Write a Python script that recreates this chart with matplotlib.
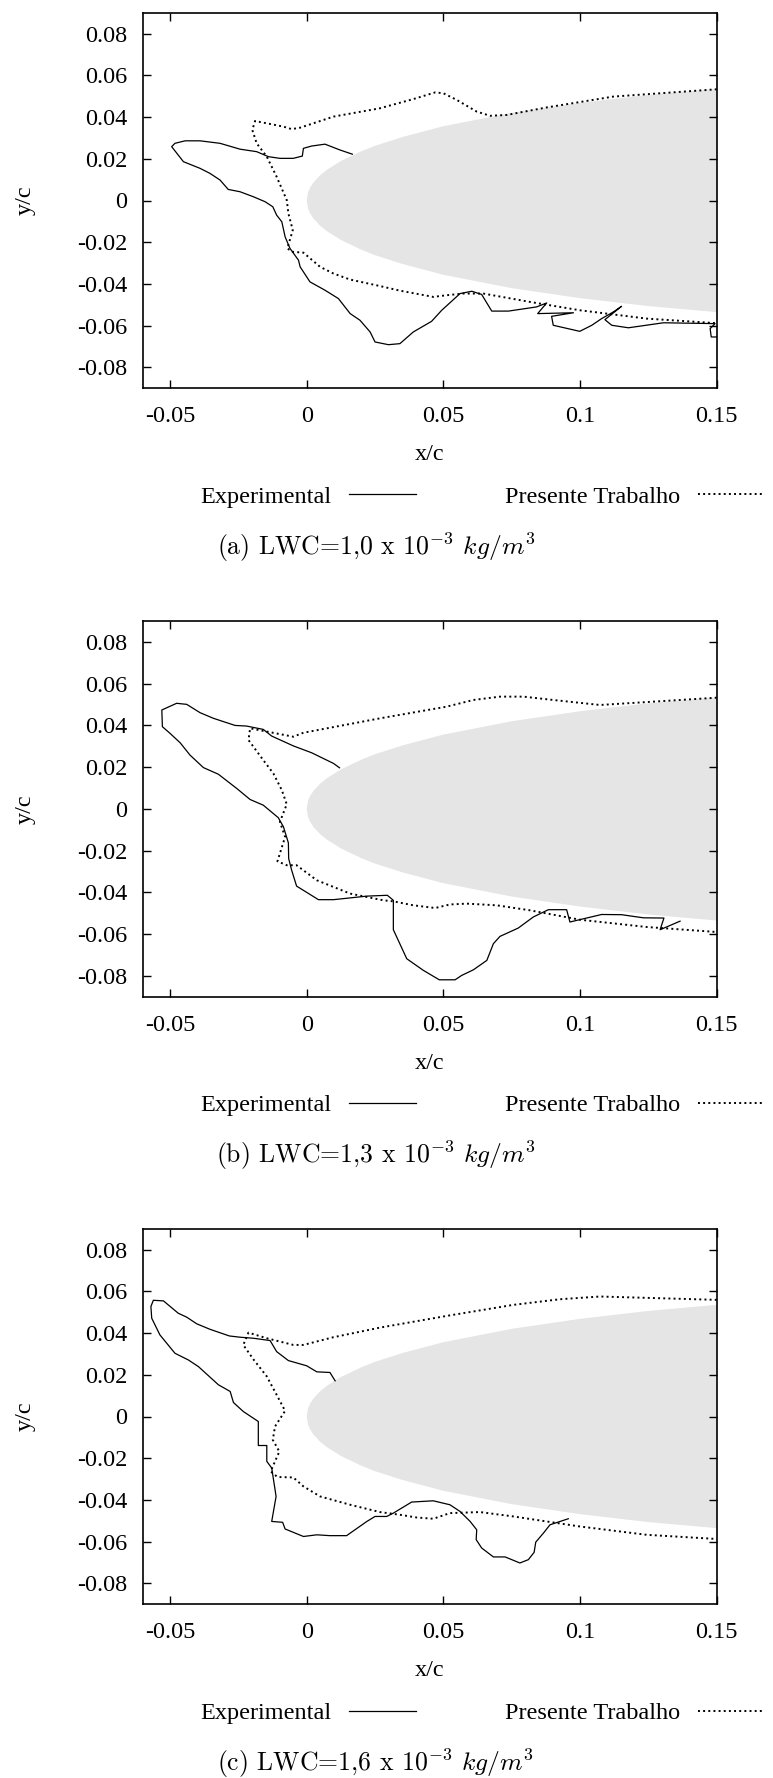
import matplotlib
matplotlib.use('Agg')
import matplotlib.pyplot as plt

plt.rcParams['font.family'] = ['Liberation Serif', 'DejaVu Serif']
plt.rcParams['mathtext.fontset'] = 'cm'
plt.rcParams['axes.unicode_minus'] = False

# NACA 0012 nose, upper surface (lower surface is the mirror)
foil_x = [0.0, 0.0005, 0.00125, 0.0025, 0.005, 0.0075, 0.0125, 0.02, 0.025,
          0.035, 0.05, 0.075, 0.1, 0.125, 0.15, 0.16]
foil_y = [0.0, 0.0039, 0.0062, 0.0087, 0.0122, 0.0148, 0.0189, 0.0236, 0.0262,
          0.0304, 0.0356, 0.0420, 0.0468, 0.0506, 0.0535, 0.0544]

# (a) LWC = 1,0
expA_x = [0.0167, 0.0122, 0.0067, 0.0018, -0.0012, -0.0016, -0.0049, -0.0098, -0.0140,
          -0.0183, -0.0244, -0.0317, -0.0390, -0.0445, -0.0482, -0.0494, -0.0451, -0.0390,
          -0.0354, -0.0317, -0.0287, -0.0244, -0.0195, -0.0152, -0.0124, -0.0110, -0.0091,
          -0.0079, -0.0061, -0.0030, -0.0024, 0.0012, 0.0067, 0.0116, 0.0159, 0.0195,
          0.0232, 0.0250, 0.0299, 0.0341, 0.0390, 0.0457, 0.0494, 0.0561, 0.0604,
          0.0640, 0.0677, 0.0738, 0.0841, 0.0878, 0.0845, 0.0976, 0.0896, 0.0902,
          0.0999, 0.1043, 0.1079, 0.1122, 0.1152, 0.1091, 0.1116, 0.1177, 0.1305,
          0.1494, 0.1476, 0.1480, 0.1500]
expA_y = [0.0222, 0.0242, 0.0270, 0.0261, 0.0250, 0.0213, 0.0202, 0.0202, 0.0210,
          0.0234, 0.0246, 0.0274, 0.0286, 0.0286, 0.0274, 0.0258, 0.0186, 0.0154,
          0.0130, 0.0098, 0.0053, 0.0042, 0.0018, -0.0006, -0.0030, -0.0070, -0.0102,
          -0.0174, -0.0230, -0.0286, -0.0318, -0.0390, -0.0430, -0.0470, -0.0542, -0.0574,
          -0.0630, -0.0678, -0.0691, -0.0686, -0.0630, -0.0579, -0.0526, -0.0446, -0.0435,
          -0.0450, -0.0530, -0.0530, -0.0510, -0.0491, -0.0542, -0.0538, -0.0555, -0.0598,
          -0.0627, -0.0598, -0.0566, -0.0534, -0.0507, -0.0571, -0.0598, -0.0610, -0.0586,
          -0.0590, -0.0614, -0.0654, -0.0654]
simA_x = [0.1500, 0.1122, 0.0878, 0.0732, 0.0671, 0.0622, 0.0549, 0.0500, 0.0470,
          0.0390, 0.0268, 0.0098, -0.0024, -0.0055, -0.0085, -0.0189, -0.0199, -0.0183,
          -0.0146, -0.0110, -0.0073, -0.0067, -0.0051, -0.0071, -0.0051, -0.0012, 0.0049,
          0.0098, 0.0159, 0.0268, 0.0341, 0.0463, 0.0512, 0.0573, 0.0646, 0.0817,
          0.0999, 0.1244, 0.1500]
simA_y = [0.0533, 0.0498, 0.0446, 0.0410, 0.0406, 0.0426, 0.0482, 0.0514, 0.0518,
          0.0486, 0.0442, 0.0402, 0.0349, 0.0342, 0.0354, 0.0381, 0.0338, 0.0274,
          0.0210, 0.0114, 0.0002, -0.0062, -0.0142, -0.0230, -0.0246, -0.0250, -0.0318,
          -0.0350, -0.0379, -0.0410, -0.0432, -0.0462, -0.0454, -0.0446, -0.0446, -0.0486,
          -0.0526, -0.0566, -0.0588]

# (b) LWC = 1,3
expB_x = [0.0120, 0.0098, 0.0018, -0.0049, -0.0128, -0.0159, -0.0220, -0.0262, -0.0341,
          -0.0390, -0.0439, -0.0476, -0.0530, -0.0528, -0.0500, -0.0463, -0.0427, -0.0378,
          -0.0323, -0.0256, -0.0207, -0.0159, -0.0104, -0.0085, -0.0067, -0.0066, -0.0055,
          -0.0037, 0.0043, 0.0098, 0.0220, 0.0295, 0.0317, 0.0317, 0.0366, 0.0427,
          0.0485, 0.0543, 0.0567, 0.0610, 0.0659, 0.0683, 0.0707, 0.0774, 0.0829,
          0.0884, 0.0951, 0.0963, 0.1079, 0.1152, 0.1232, 0.1307, 0.1293, 0.1366]
expB_y = [0.0197, 0.0218, 0.0269, 0.0302, 0.0349, 0.0381, 0.0397, 0.0400, 0.0434,
          0.0461, 0.0501, 0.0506, 0.0474, 0.0394, 0.0362, 0.0317, 0.0258, 0.0198,
          0.0166, 0.0098, 0.0045, 0.0018, -0.0042, -0.0086, -0.0163, -0.0238, -0.0294,
          -0.0370, -0.0435, -0.0435, -0.0418, -0.0414, -0.0438, -0.0579, -0.0718, -0.0774,
          -0.0819, -0.0819, -0.0798, -0.0771, -0.0726, -0.0646, -0.0611, -0.0571, -0.0518,
          -0.0483, -0.0483, -0.0542, -0.0506, -0.0507, -0.0522, -0.0523, -0.0579, -0.0538]
simB_x = [0.1500, 0.1073, 0.0902, 0.0793, 0.0707, 0.0610, 0.0512, 0.0268, -0.0012,
          -0.0049, -0.0128, -0.0207, -0.0213, -0.0159, -0.0122, -0.0091, -0.0073, -0.0098,
          -0.0079, -0.0107, -0.0073, -0.0037, 0.0037, 0.0159, 0.0280, 0.0317, 0.0390,
          0.0470, 0.0524, 0.0585, 0.0695, 0.0817, 0.0999, 0.1244, 0.1500]
simB_y = [0.0533, 0.0498, 0.0522, 0.0538, 0.0538, 0.0522, 0.0490, 0.0434, 0.0365,
          0.0346, 0.0366, 0.0386, 0.0330, 0.0234, 0.0170, 0.0090, 0.0022, -0.0062,
          -0.0134, -0.0251, -0.0270, -0.0270, -0.0342, -0.0406, -0.0438, -0.0443, -0.0462,
          -0.0475, -0.0458, -0.0454, -0.0462, -0.0486, -0.0531, -0.0566, -0.0590]

# (c) LWC = 1,6
expC_x = [0.0104, 0.0085, 0.0037, 0.0000, -0.0067, -0.0110, -0.0134, -0.0195, -0.0244,
          -0.0283, -0.0354, -0.0402, -0.0439, -0.0470, -0.0524, -0.0561, -0.0570, -0.0567,
          -0.0537, -0.0482, -0.0433, -0.0396, -0.0323, -0.0280, -0.0268, -0.0232, -0.0177,
          -0.0177, -0.0146, -0.0146, -0.0128, -0.0112, -0.0128, -0.0088, -0.0079, -0.0012,
          0.0037, 0.0085, 0.0146, 0.0220, 0.0250, 0.0293, 0.0317, 0.0384, 0.0463,
          0.0524, 0.0561, 0.0598, 0.0622, 0.0620, 0.0640, 0.0683, 0.0726, 0.0780,
          0.0811, 0.0832, 0.0838, 0.0866, 0.0890, 0.0957]
expC_y = [0.0171, 0.0211, 0.0214, 0.0243, 0.0268, 0.0311, 0.0364, 0.0375, 0.0380,
          0.0386, 0.0418, 0.0444, 0.0476, 0.0495, 0.0554, 0.0557, 0.0527, 0.0471,
          0.0391, 0.0303, 0.0271, 0.0239, 0.0152, 0.0120, 0.0067, 0.0024, -0.0024,
          -0.0139, -0.0139, -0.0215, -0.0247, -0.0383, -0.0503, -0.0507, -0.0539, -0.0575,
          -0.0567, -0.0571, -0.0571, -0.0503, -0.0479, -0.0479, -0.0463, -0.0410, -0.0404,
          -0.0423, -0.0455, -0.0503, -0.0543, -0.0590, -0.0630, -0.0673, -0.0673, -0.0702,
          -0.0686, -0.0651, -0.0602, -0.0559, -0.0519, -0.0490]
simC_x = [0.1500, 0.1073, 0.0927, 0.0756, 0.0512, 0.0268, 0.0098, -0.0012, -0.0049,
          -0.0146, -0.0213, -0.0232, -0.0195, -0.0146, -0.0110, -0.0079, -0.0116, -0.0124,
          -0.0100, -0.0132, -0.0107, -0.0049, -0.0012, 0.0049, 0.0159, 0.0268, 0.0341,
          0.0402, 0.0463, 0.0524, 0.0634, 0.0756, 0.0999, 0.1244, 0.1500]
simC_y = [0.0559, 0.0575, 0.0562, 0.0535, 0.0482, 0.0426, 0.0380, 0.0343, 0.0343,
          0.0375, 0.0402, 0.0343, 0.0274, 0.0192, 0.0104, 0.0027, -0.0048, -0.0112,
          -0.0168, -0.0263, -0.0290, -0.0292, -0.0335, -0.0383, -0.0423, -0.0458, -0.0471,
          -0.0484, -0.0490, -0.0463, -0.0458, -0.0479, -0.0527, -0.0567, -0.0587]

captions = [r'(a) LWC=1,0 x $10^{-3}$ $kg/m^3$',
            r'(b) LWC=1,3 x $10^{-3}$ $kg/m^3$',
            r'(c) LWC=1,6 x $10^{-3}$ $kg/m^3$']
xticks = [-0.05, 0, 0.05, 0.1, 0.15]
xticklabels = ['-0.05', '0', '0.05', '0.1', '0.15']
yticks = [-0.08, -0.06, -0.04, -0.02, 0, 0.02, 0.04, 0.06, 0.08]
yticklabels = ['-0.08', '-0.06', '-0.04', '-0.02', '0', '0.02', '0.04', '0.06', '0.08']

panels = [(expA_x, expA_y, simA_x, simA_y),
          (expB_x, expB_y, simB_x, simB_y),
          (expC_x, expC_y, simC_x, simC_y)]

W, H = 773, 1778
fig = plt.figure(figsize=(W / 100, H / 100), dpi=100)

FS = 17.5
ax_l, ax_w, ax_h = 142.7, 574.0, 375.6
bottoms = [388.3, 996.7, 1604.3]
foil_lx = foil_x[::-1] + foil_x[1:]
foil_ly = [-v for v in foil_y[::-1]] + foil_y[1:]

for k, (ex, ey, sx, sy) in enumerate(panels):
    b = bottoms[k]
    ax = fig.add_axes([ax_l / W, 1 - b / H, ax_w / W, ax_h / H])
    ax.fill(foil_lx, foil_ly, color='#e5e5e5', lw=0, zorder=1)
    ax.plot(ex, ey, color='black', lw=0.9, zorder=3, label='Experimental')
    ax.plot(sx, sy, color='black', lw=1.4, ls=':', zorder=3, label='Presente Trabalho')
    ax.set_xlim(-0.06, 0.15)
    ax.set_ylim(-0.09, 0.09)
    ax.set_xticks(xticks)
    ax.set_xticklabels(xticklabels)
    ax.set_yticks(yticks)
    ax.set_yticklabels(yticklabels)
    ax.tick_params(direction='in', top=True, right=True, length=6, width=1.0,
                   labelsize=FS)
    ax.tick_params(axis='x', pad=13)
    ax.tick_params(axis='y', pad=11)
    for sp in ax.spines.values():
        sp.set_linewidth(1.2)
        sp.set_zorder(4)
    ax.set_xlabel('x/c', fontsize=FS, va='center')
    ax.xaxis.set_label_coords(0.5, -66.7 / ax_h)
    ax.set_ylabel('y/c', fontsize=FS, va='center')
    ax.yaxis.set_label_coords((25 - ax_l) / ax_w, 0.5)
    em = FS * 100 / 72
    ax.legend(loc='center', bbox_to_anchor=((482.5 - ax_l) / ax_w, -(108.7 / ax_h)),
              ncol=2, markerfirst=False, frameon=False, fontsize=FS,
              handlelength=67 / em, handletextpad=0.7, columnspacing=3.7,
              borderpad=0, borderaxespad=0)
    fig.text(376 / W, 1 - (b + 159) / H, captions[k], family='cmr10', fontsize=18.5,
             ha='center', va='center')

fig.savefig('out.png', dpi=100)
